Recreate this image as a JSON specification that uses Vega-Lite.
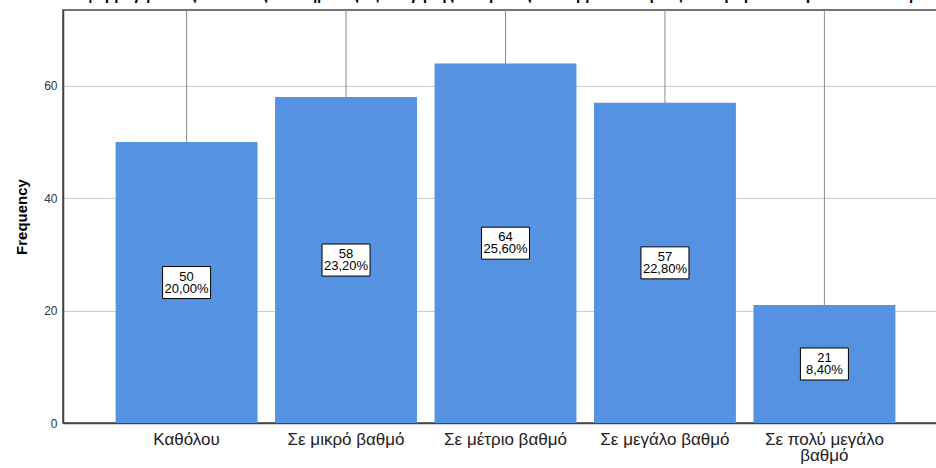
{
  "$schema": "https://vega.github.io/schema/vega-lite/v6.json",
  "autosize": {"type": "none"},
  "padding": {"top": 10, "left": 63, "right": 0, "bottom": 45},
  "width": 885,
  "height": 413,
  "background": "white",
  "title": {
    "text": "Η εφαρμογή στους ΟΤΑ ενός συστήματος αξιολόγησης σε ομάδες θα συμβάλει στην αξιοποίηση του ανθρώπινου δυναμικού",
    "font": "Liberation Sans",
    "fontSize": 15,
    "fontWeight": "bold",
    "color": "#000000",
    "baseline": "bottom",
    "offset": 0,
    "dy": 8,
    "anchor": "middle"
  },
  "config": {
    "view": {"stroke": "#444444", "strokeWidth": 1.5},
    "font": "Liberation Sans"
  },
  "data": {
    "values": [
      {"cat": "Καθόλου", "n": 50, "pct": "20,00%"},
      {"cat": "Σε μικρό βαθμό", "n": 58, "pct": "23,20%"},
      {"cat": "Σε μέτριο βαθμό", "n": 64, "pct": "25,60%"},
      {"cat": "Σε μεγάλο βαθμό", "n": 57, "pct": "22,80%"},
      {"cat": "Σε πολύ μεγάλο βαθμό", "n": 21, "pct": "8,40%"}
    ]
  },
  "encoding": {
    "x": {
      "field": "cat",
      "type": "nominal",
      "sort": null,
      "scale": {"paddingInner": 0.11, "paddingOuter": 0.33},
      "axis": {
        "title": null,
        "labelAngle": 0,
        "labelFontSize": 17,
        "labelColor": "#222222",
        "labelFont": "Liberation Sans",
        "labelPadding": 8,
        "ticks": false,
        "domainColor": "#444444",
        "domainWidth": 1.5,
        "labelLineHeight": 16,
        "labelExpr": "datum.value == 'Σε πολύ μεγάλο βαθμό' ? ['Σε πολύ μεγάλο', 'βαθμό'] : datum.value"
      }
    }
  },
  "layer": [
    {
      "mark": {"type": "rule", "color": "#8c8c8c", "strokeWidth": 1},
      "encoding": {}
    },
    {
      "mark": {"type": "bar", "color": "#5592e2"},
      "encoding": {
        "y": {
          "field": "n",
          "type": "quantitative",
          "scale": {"domain": [0, 73.5], "nice": false},
          "axis": {
            "title": "Frequency",
            "titleFontSize": 15,
            "titleFontWeight": "bold",
            "titleColor": "#000000",
            "titlePadding": 14,
            "values": [0, 20, 40, 60],
            "labelFontSize": 12,
            "labelColor": "#333333",
            "labelPadding": 6,
            "ticks": false,
            "domainColor": "#444444",
            "domainWidth": 1.5,
            "grid": true,
            "gridColor": "#cccccc",
            "gridWidth": 1
          }
        }
      }
    },
    {
      "transform": [{"calculate": "datum.n / 2", "as": "mid"}],
      "mark": {
        "type": "point",
        "shape": "M-1,-0.667L1,-0.667L1,0.667L-1,0.667Z",
        "size": 2304,
        "filled": true,
        "fill": "white",
        "stroke": "#000000",
        "strokeWidth": 1,
        "opacity": 1
      },
      "encoding": {
        "y": {"field": "mid", "type": "quantitative"}
      }
    },
    {
      "transform": [
        {"calculate": "datum.n / 2", "as": "mid"},
        {"calculate": "[format(datum.n, 'd'), datum.pct]", "as": "lbl"}
      ],
      "mark": {
        "type": "text",
        "fontSize": 13,
        "font": "Liberation Sans",
        "color": "#000000",
        "baseline": "middle",
        "lineHeight": 12,
        "dy": -6,
        "align": "center"
      },
      "encoding": {
        "y": {"field": "mid", "type": "quantitative"},
        "text": {"field": "lbl"}
      }
    }
  ]
}
